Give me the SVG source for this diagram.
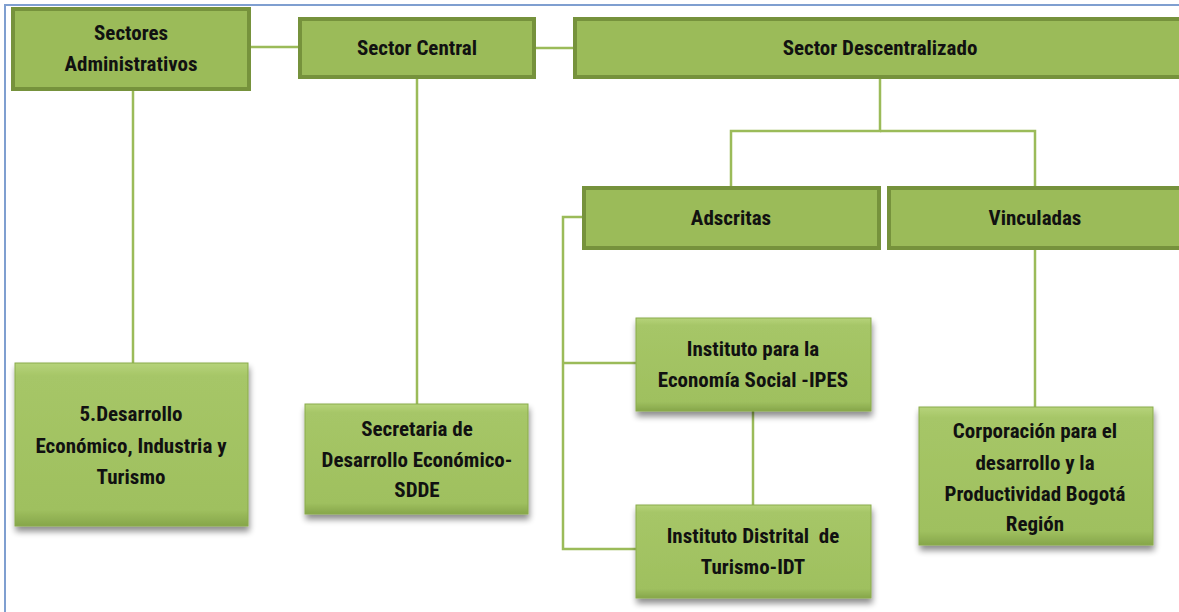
<svg xmlns="http://www.w3.org/2000/svg" width="1179" height="612" viewBox="0 0 1179 612">
<defs>
<linearGradient id="bev" x1="0" y1="0" x2="0" y2="1">
<stop offset="0" stop-color="#b6d37a"/>
<stop offset="0.08" stop-color="#a6c667"/>
<stop offset="0.9" stop-color="#9fc05f"/>
<stop offset="1" stop-color="#86a64a"/>
</linearGradient>
<filter id="sh" x="-10%" y="-10%" width="125%" height="130%">
<feGaussianBlur in="SourceAlpha" stdDeviation="3"/>
<feOffset dx="1" dy="5" result="b"/>
<feComponentTransfer><feFuncA type="linear" slope="0.45"/></feComponentTransfer>
<feMerge><feMergeNode/><feMergeNode in="SourceGraphic"/></feMerge>
</filter>
</defs>
<style>
.top{fill:#9bbb59;stroke:#76923c;stroke-width:4}
.low{fill:url(#bev);stroke:#8aab4c;stroke-width:1;filter:url(#sh)}
.t{font-family:"Liberation Sans Narrow","Roboto Condensed","Liberation Sans",Arial,sans-serif;font-weight:bold;font-size:21px;fill:#111;text-anchor:middle}
.c{fill:none;stroke:#9bbb59;stroke-width:2.5}
</style>
<rect x="0" y="0" width="1179" height="612" fill="#fff"/>
<path d="M5,612 V5 H1179" fill="none" stroke="#7f9fd0" stroke-width="2"/>
<g id="connectors">
<path class="c" d="M250,47 H300"/>
<path class="c" d="M534,48 H574"/>
<path class="c" d="M133,90 V363"/>
<path class="c" d="M417,78 V404"/>
<path class="c" d="M880,78 V131 H731 V187"/>
<path class="c" d="M880,131 H1035 V187"/>
<path class="c" d="M583,217 H563 V549 H636"/>
<path class="c" d="M563,363 H636"/>
<path class="c" d="M753,411 V505"/>
<path class="c" d="M1035,248 V407"/>
</g>
<g id="sectores-administrativos">
<rect class="top" x="13" y="9" width="236" height="80"/>
<text class="t" x="131" y="40">Sectores</text>
<text class="t" x="131" y="71">Administrativos</text>
</g>
<g id="sector-central">
<rect class="top" x="300" y="19" width="234" height="58"/>
<text class="t" x="417" y="55">Sector Central</text>
</g>
<g id="sector-descentralizado">
<rect class="top" x="575" y="19" width="610" height="58"/>
<text class="t" x="880" y="55">Sector Descentralizado</text>
</g>
<g id="adscritas">
<rect class="top" x="584" y="188" width="295" height="60"/>
<text class="t" x="731" y="225">Adscritas</text>
</g>
<g id="vinculadas">
<rect class="top" x="889" y="188" width="296" height="60"/>
<text class="t" x="1035" y="225">Vinculadas</text>
</g>
<g id="desarrollo-economico">
<rect class="low" x="15" y="363" width="233" height="163"/>
<text class="t" x="131" y="421">5.Desarrollo</text>
<text class="t" x="131" y="453">Económico, Industria y</text>
<text class="t" x="131" y="484">Turismo</text>
</g>
<g id="secretaria">
<rect class="low" x="305" y="404" width="223" height="110"/>
<text class="t" x="417" y="436">Secretaria de</text>
<text class="t" x="417" y="467">Desarrollo Económico-</text>
<text class="t" x="417" y="497">SDDE</text>
</g>
<g id="ipes">
<rect class="low" x="636" y="318" width="235" height="93"/>
<text class="t" x="753" y="356">Instituto para la</text>
<text class="t" x="753" y="387">Economía Social -IPES</text>
</g>
<g id="idt">
<rect class="low" x="636" y="505" width="235" height="93"/>
<text class="t" x="753" y="543" xml:space="preserve">Instituto Distrital  de</text>
<text class="t" x="753" y="574">Turismo-IDT</text>
</g>
<g id="corporacion">
<rect class="low" x="919" y="407" width="234" height="138"/>
<text class="t" x="1035" y="438">Corporación para el</text>
<text class="t" x="1035" y="470">desarrollo y la</text>
<text class="t" x="1035" y="501">Productividad Bogotá</text>
<text class="t" x="1035" y="531">Región</text>
</g>
</svg>
